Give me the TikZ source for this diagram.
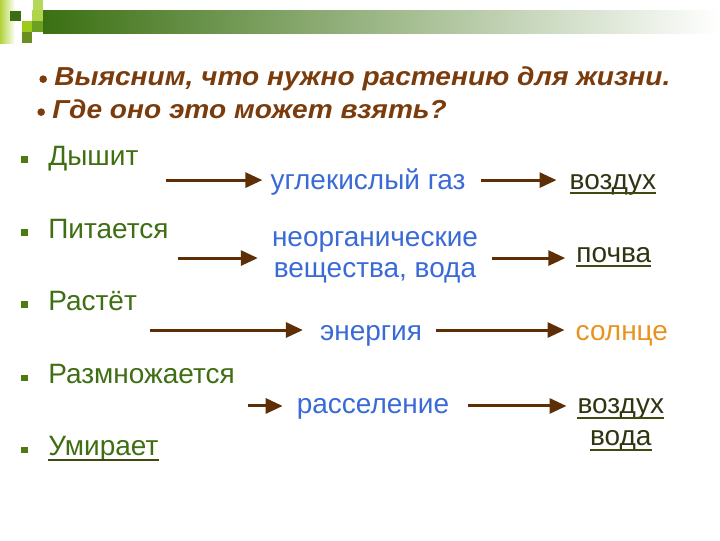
\documentclass[tikz,border=0pt]{standalone}
\usepackage{fontspec}
\setmainfont{Liberation Sans}
\newfontfamily\titlefont[FakeStretch=1.08]{Liberation Sans}
\usetikzlibrary{arrows.meta}
\definecolor{bardark}{HTML}{3B7012}
\definecolor{lime}{HTML}{B2D43C}
\definecolor{sqdark}{HTML}{3D6B12}
\definecolor{sqlight}{HTML}{B5D858}
\definecolor{sqbright}{HTML}{9CCB19}
\definecolor{sqmid}{HTML}{6AA121}
\definecolor{sqolive}{HTML}{6B8E23}
\definecolor{titlebrown}{HTML}{7A3C0C}
\definecolor{itemgreen}{HTML}{3F6E13}
\definecolor{bulletgreen}{HTML}{4E7A12}
\definecolor{needblue}{HTML}{3A6AD6}
\definecolor{srcolive}{HTML}{2F3511}
\definecolor{ulolive}{HTML}{3F4A13}
\definecolor{sunorange}{HTML}{E8931E}
\definecolor{arrbrown}{HTML}{5E2F07}

\begin{document}
\begin{tikzpicture}[x=1pt,y=-1pt,>={Triangle[length=17pt,width=15pt]},
		title/.style={anchor=base west,inner sep=0pt,text=titlebrown,font=\titlefont\fontsize{26}{30}\selectfont\bfseries\itshape},
		item/.style={anchor=base west,inner sep=0pt,text=itemgreen,font=\fontsize{28}{31}\selectfont},
		need/.style={anchor=base,inner sep=0pt,text=needblue,font=\fontsize{28}{31}\selectfont},
		source/.style={anchor=base,inner sep=0pt,text=srcolive,font=\fontsize{28}{31}\selectfont},
		arr/.style={->,line width=3pt,draw=arrbrown},
		uline/.style={line width=2pt,draw=ulolive}]
		%
		\draw [use as bounding box,color=white] (0,0) rectangle (720,540);
		%
		% header bar
		\shade [left color=lime,right color=white] (0,0) rectangle (15,43);
		\shade [left color=bardark,right color=white] (43,10) rectangle (720,33);
		\fill [sqdark] (10,11) rectangle (21,21);
		\fill [sqlight] (33,0) rectangle (43,10);
		\fill [sqlight!80!sqbright] (32,10) rectangle (43,21);
		\fill [sqbright] (22,21) rectangle (32,32);
		\fill [sqmid] (32,21) rectangle (43,32);
		\fill [sqolive] (22,32) rectangle (32,43);
		%
		\node[title] (q1) at (54,85) {Выясним, что нужно растению для жизни.};
		\node[title] (q2) at (52,118) {Где оно это может взять?};
		\foreach \n in {q1,q2}
			\fill [titlebrown] ([xshift=-11pt,yshift=6pt]\n.base west) circle (3.8pt);
		%
		\node[item] (breathe) at (48,165) {Дышит};
		\node[item] (feed) at (48,238) {Питается};
		\node[item] (grow) at (48,310) {Растёт};
		\node[item] (breed) at (48,384) {Размножается};
		\node[item] (die) at (48,456) {Умирает};
		\foreach \n in {breathe,feed,grow,breed,die}
			\fill [bulletgreen] ([xshift=-27pt,yshift=2.5pt]\n.base west) rectangle +(6.5pt,6.5pt);
		%
		\node[need] (gas) at (368,189) {углекислый газ};
		\node[need] (salt) at (375,246) {неорганические};
		\node[need] (water) at (375,277) {вещества, вода};
		\node[need] (energy) at (371,340) {энергия};
		\node[need] (spread) at (373,414) {расселение};
		%
		\node[source] (air) at (613,189) {воздух};
		\node[source] (soil) at (614,262) {почва};
		\node[source,text=sunorange] (sun) at (622,340) {солнце};
		\node[source] (air2) at (621,414) {воздух};
		\node[source] (water2) at (621,446) {вода};
		\foreach \n in {air,soil,air2,water2,die}
			\draw [uline] ([yshift=-4pt]\n.base west) -- ([yshift=-4pt]\n.base east);
		%
		\coordinate (t1) at (166,180);
		\coordinate (t2) at (178,258);
		\coordinate (t3) at (150,330);
		\coordinate (t4) at (248,406);
		\draw[arr,shorten >=8pt] (t1) -- (t1 -| gas.west);
		\draw[arr,shorten <=15pt,shorten >=13pt] (gas.east |- t1) -- (air.west |- t1);
		\draw[arr,shorten >=14pt] (t2) -- (t2 -| salt.west);
		\draw[arr,shorten <=14pt,shorten >=11pt] (salt.east |- t2) -- (soil.west |- t2);
		\draw[arr,shorten >=17pt] (t3) -- (t3 -| energy.west);
		\draw[arr,shorten <=14pt,shorten >=11pt] (energy.east |- t3) -- (sun.west |- t3);
		\draw[arr,shorten >=14pt] (t4) -- (t4 -| spread.west);
		\draw[arr,shorten <=19pt,shorten >=11pt] (spread.east |- t4) -- (air2.west |- t4);
		%
	\end{tikzpicture}
\end{document}
